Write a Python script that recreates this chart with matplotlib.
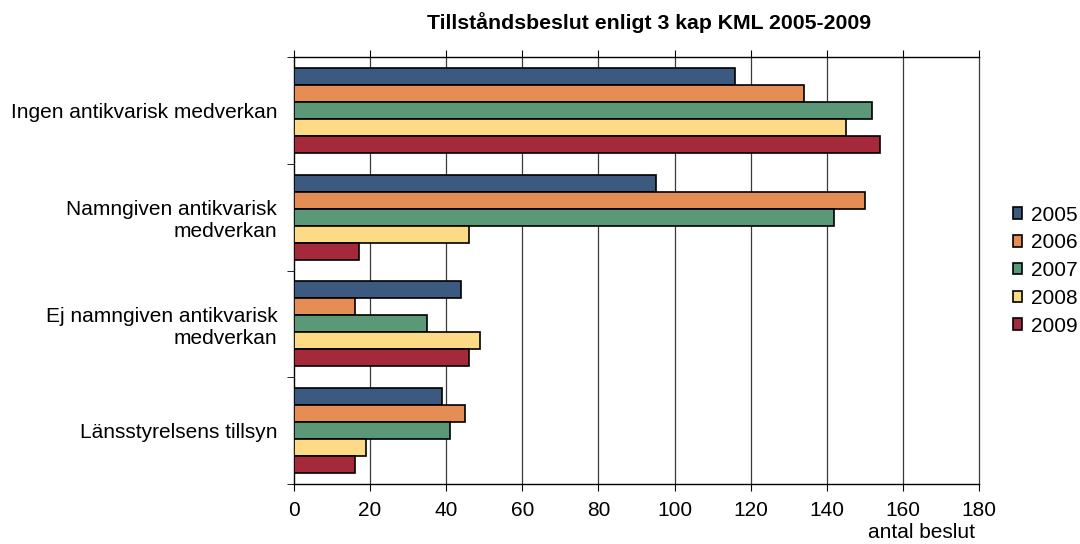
import matplotlib

matplotlib.use("Agg")
import matplotlib.pyplot as plt
import numpy as np

categories = [
    "Ingen antikvarisk medverkan",
    "Namngiven antikvarisk\nmedverkan",
    "Ej namngiven antikvarisk\nmedverkan",
    "Länsstyrelsens tillsyn",
]
years = ["2005", "2006", "2007", "2008", "2009"]
values = {
    "2005": [116, 95, 44, 39],
    "2006": [134, 150, 16, 45],
    "2007": [152, 142, 35, 41],
    "2008": [145, 46, 49, 19],
    "2009": [154, 17, 46, 16],
}
colors = ["#3C5A80", "#E68C55", "#5A9878", "#FDDA86", "#A5293A"]
xticks = [0, 20, 40, 60, 80, 100, 120, 140, 160, 180]

plt.rcParams["font.family"] = ["Liberation Sans", "DejaVu Sans"]

fig = plt.figure(figsize=(10.8, 5.44), dpi=100)
ax = fig.add_axes([0.2722, 0.1103, 0.6343, 0.7849])

n = len(years)
bar_h = 0.159
pos = np.arange(len(categories))
for i, (yr, col) in enumerate(zip(years, colors)):
    offs = (i - (n - 1) / 2) * bar_h
    ax.barh(pos + offs, values[yr], height=bar_h, color=col,
            edgecolor="black", linewidth=1.2, label=yr, zorder=3)

ax.set_xlim(0, 180)
ax.set_ylim(len(categories) - 0.5, -0.5)
ax.set_xticks(xticks)
ax.set_xticklabels([str(t) for t in xticks], fontsize=15)
ax.set_yticks(pos)
ax.set_yticklabels(categories, fontsize=15)
ax.tick_params(axis="y", length=0, pad=12)
ax.set_yticks(np.arange(len(categories) + 1) - 0.5, minor=True)
ax.tick_params(axis="y", which="minor", length=5, color="black")
ax.tick_params(axis="x", length=5, top=True, direction="out", pad=7)

for t in xticks[1:-1]:
    ax.axvline(t, color="#3a3a3a", linewidth=0.9, zorder=1)

for s in ["top", "left", "bottom"]:
    ax.spines[s].set_color("black")
    ax.spines[s].set_linewidth(1.0)
ax.spines["right"].set_color("#3a3a3a")
ax.spines["right"].set_linewidth(0.9)

fig.text(649 / 1080, 1 - 23 / 544, "Tillståndsbeslut enligt 3 kap KML 2005-2009",
         ha="center", va="center", fontsize=15.3, fontweight="bold")
fig.text(975 / 1080, 1 - 532 / 544, "antal beslut", ha="right", va="center",
         fontsize=15)

leg = ax.legend(loc="center left", bbox_to_anchor=(1.037, 0.5), frameon=False,
                fontsize=15, handlelength=0.46, handleheight=0.46,
                handletextpad=0.4, labelspacing=0.42, borderaxespad=0)

fig.savefig("out.png", dpi=100)
